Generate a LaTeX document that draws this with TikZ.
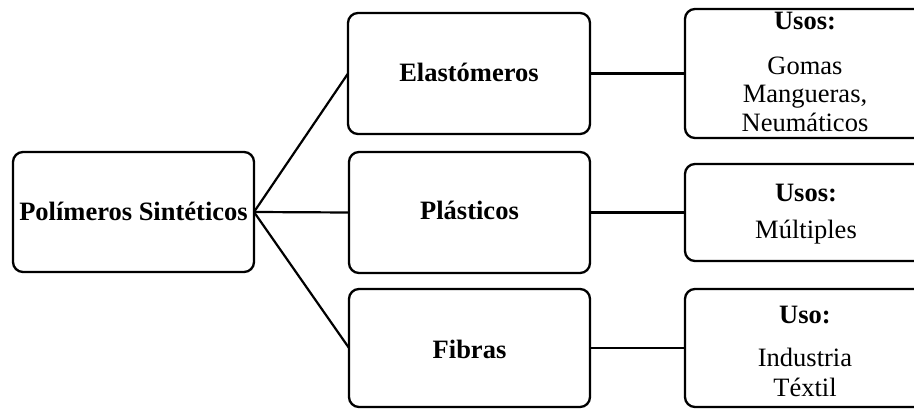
\documentclass[tikz,border=0pt]{standalone}
\usepackage{fontspec}
\setmainfont{Liberation Serif}
\begin{document}
\begin{tikzpicture}[x=1pt,y=-1pt,
  box/.style={draw, line width=2.3pt, rounded corners=10pt, inner sep=0pt, outer sep=0pt},
  conn/.style={line width=2.2pt},
  lbl/.style={font=\fontsize{26.5}{30}\selectfont, anchor=base, inner sep=0pt},
  blbl/.style={lbl, font=\fontsize{26.5}{30}\selectfont\bfseries}]
\useasboundingbox (0,0) rectangle (914,409);
\clip (0,0) rectangle (914,409);
% boxes
\node[box, minimum width=241pt, minimum height=120pt] (a) at (133.5,212) {};
\node[box, minimum width=242pt, minimum height=121pt] (e) at (469,73.5) {};
\node[box, minimum width=241pt, minimum height=121pt] (p) at (469.5,212.5) {};
\node[box, minimum width=241pt, minimum height=118pt] (f) at (469.5,348) {};
\node[box, minimum width=240pt, minimum height=129pt] (u1) at (805,73.5) {};
\node[box, minimum width=240pt, minimum height=97pt] (u2) at (805,212.5) {};
\node[box, minimum width=240pt, minimum height=118pt] (u3) at (805,348) {};
% texts
\node[blbl] (ta) at (133.5,221) {Polímeros Sintéticos};
\node[blbl] (te) at (469,82) {Elastómeros};
\node[blbl] (tp) at (469.5,220) {Plásticos};
\node[blbl] (tf) at (469.5,358) {Fibras};
\node[blbl] (t1h) at (805,30) {Usos:};
\node[lbl] (t1a) at (805,75) {Gomas};
\node[lbl] (t1b) at (805,103) {Mangueras,};
\node[lbl] (t1c) at (805,132) {Neumáticos};
\node[blbl] (t2h) at (806,202) {Usos:};
\node[lbl] (t2a) at (806,239) {Múltiples};
\node[blbl] (t3h) at (805,323) {Uso:};
\node[lbl] (t3a) at (805,366) {Industria};
\node[lbl] (t3b) at (805,396) {Téxtil};
% connectors
\draw[conn] (a.east) -- (e.west);
\draw[conn] (a.east) -- (p.west);
\draw[conn] (a.east) -- (f.west);
\draw[conn] (e.east) -- (u1.west);
\draw[conn] (p.east) -- (u2.west);
\draw[conn] (f.east) -- (u3.west);
\end{tikzpicture}
\end{document}
